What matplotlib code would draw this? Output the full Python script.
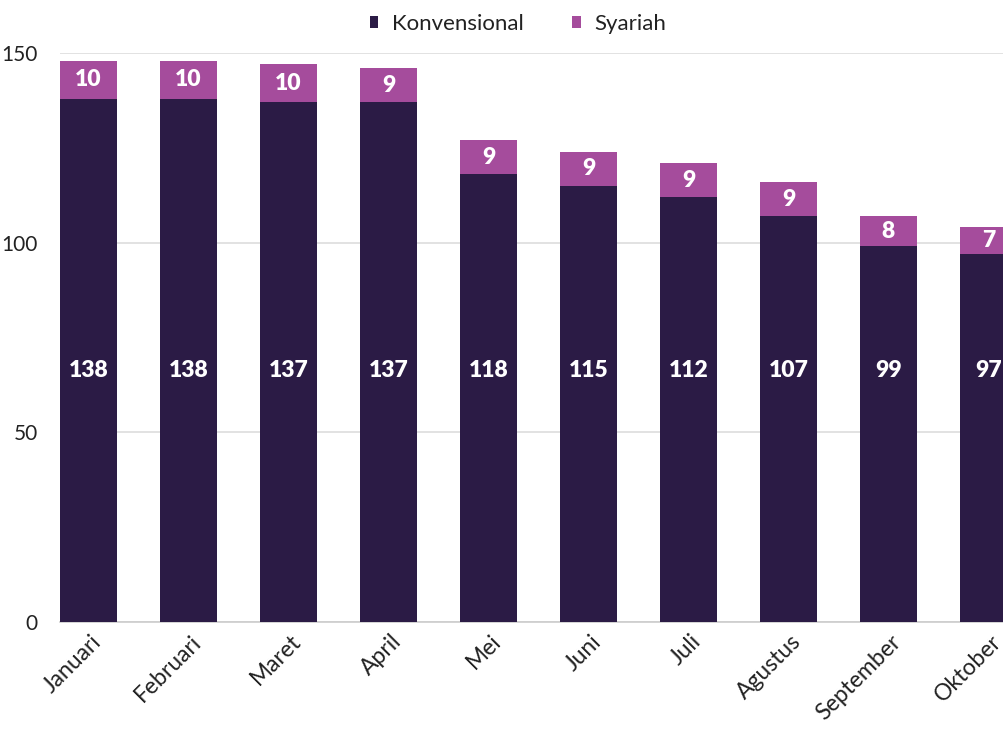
import matplotlib
matplotlib.use("Agg")
import matplotlib.pyplot as plt
import matplotlib.transforms as mtransforms
import numpy as np

months = ["Januari", "Februari", "Maret", "April", "Mei", "Juni", "Juli",
          "Agustus", "September", "Oktober"]
konvensional = [138, 138, 137, 137, 118, 115, 112, 107, 99, 97]
syariah = [10, 10, 10, 9, 9, 9, 9, 9, 8, 7]
yticks = [0, 50, 100, 150]

plt.rcParams['font.family'] = ['Lato', 'DejaVu Sans']

c_konv = "#2B1B45"
c_syar = "#A54C9C"

fig = plt.figure(figsize=(10.04, 7.29), dpi=100)
ax = fig.add_axes([60/1004, 107/729, 957/1004, 569/729])

x = np.arange(len(months))
w = 0.57
ax.bar(x, konvensional, width=w, color=c_konv, zorder=3, label="Konvensional")
ax.bar(x, syariah, width=w, bottom=konvensional, color=c_syar, zorder=3, label="Syariah")

for xi, k, s in zip(x, konvensional, syariah):
    ax.text(xi, 66.2, str(k), ha="center", va="center", color="white",
            fontsize=16.5, fontweight="heavy", zorder=4)
    ax.text(xi, k + s / 2, str(s), ha="center", va="center", color="white",
            fontsize=16.5, fontweight="heavy", zorder=4)

ax.set_xlim(-w/2, len(months) - 1 + w/2)
ax.set_ylim(0, 150)
ax.set_yticks(yticks)
ax.set_yticklabels([str(v) for v in yticks], fontsize=15, color="#222222")
ax.yaxis.grid(True, color="#DDDDDD", linewidth=1.2, zorder=0)
ax.set_axisbelow(True)
ax.set_xticks(x)
ax.set_xticklabels([])

base = mtransforms.blended_transform_factory(ax.transData, ax.transAxes)
offset = mtransforms.ScaledTranslation(2/100, -9/100, fig.dpi_scale_trans)
for xi, m in zip(x, months):
    ax.text(xi, 0, m, transform=base + offset, rotation=45, ha="right", va="top",
            rotation_mode="anchor", fontsize=16.5, color="#222222", clip_on=False)

ax.tick_params(axis="both", length=0)
ax.tick_params(axis="y", pad=16)
for sp in ["top", "right", "left"]:
    ax.spines[sp].set_visible(False)
ax.spines["bottom"].set_color("#CCCCCC")
ax.spines["bottom"].set_linewidth(1.2)

leg = fig.legend(loc="center", bbox_to_anchor=(518/1004, 1 - 24/729), ncol=2,
                 frameon=False, fontsize=16, handlelength=0.4, handleheight=0.4,
                 handletextpad=0.6, columnspacing=2.2)
for t in leg.get_texts():
    t.set_color("#222222")

fig.savefig("out.png", dpi=100)
